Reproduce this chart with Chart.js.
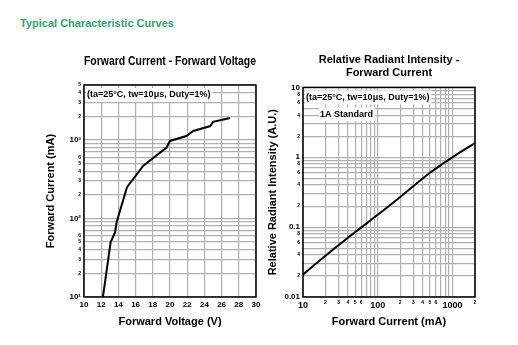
<!DOCTYPE html>
<html>
<head>
<meta charset="utf-8">
<script src="https://cdn.jsdelivr.net/npm/chart.js@4.4.0/dist/chart.umd.min.js"></script>
<style>
body { margin:0; background:#fff; width:518px; height:345px; position:relative; overflow:hidden; font-family:"Liberation Sans", Arial, sans-serif; }
#titre { position:absolute; left:20px; top:17px; font-weight:bold; font-size:11px; color:#35a06e; }
#c1 { position:absolute; left:0; top:40px; }
#c2 { position:absolute; left:262px; top:40px; }
</style>
</head>
<body>
<div id="titre">Typical Characteristic Curves</div>
<canvas id="c1" width="265" height="305"></canvas>
<canvas id="c2" width="256" height="305"></canvas>
<script>
// courbe 1 : courant direct / tension directe
const voltage = [12.2, 13.1, 13.6, 13.8, 15.0, 16.9, 19.6, 20.0, 21.9, 22.7, 24.7, 25.0, 27.0];
const currentMa = [10, 50, 66, 90, 250, 470, 800, 970, 1120, 1300, 1500, 1700, 1900];
const vTicks = [10, 12, 14, 16, 18, 20, 22, 24, 26, 28, 30];
const iTicks = [10,20,30,40,50,60,70,80,90,100,200,300,400,500,600,700,800,900,1000,2000,3000,4000,5000];
const iMajor = {10: "10\u00b9", 100: "10\u00b2", 1000: "10\u00b3"};
const iMinorDigits = [2, 3, 4, 5, 6];

// courbe 2 : intensite relative / courant direct
const currentRel = [10, 20, 50, 100, 200, 500, 1000, 2000];
const intensity = [0.021, 0.039, 0.085, 0.15, 0.27, 0.6, 1.0, 1.6];
const cTicks = [10,20,30,40,50,60,70,80,90,100,200,300,400,500,600,700,800,900,1000,2000];
const cMajor = {10: "10", 100: "100", 1000: "1000"};
const cMinorDigits = [2, 3, 4, 5, 6];
const rTicks = [0.01,0.02,0.03,0.04,0.05,0.06,0.07,0.08,0.09,0.1,0.2,0.3,0.4,0.5,0.6,0.7,0.8,0.9,1,2,3,4,5,6,7,8,9,10];
const rMajor = {0.01: "0.01", 0.1: "0.1", 1: "1", 10: "10"};
const rMinorDigits = [2, 4, 6, 8];

const note = "(ta=25\u00b0C, tw=10\u03bcs, Duty=1%)";
const FONT = "'Liberation Sans', Arial, sans-serif";
const GRID = "#b0b0b0";

function digit(v) {
	return Math.round(v / Math.pow(10, Math.floor(Math.log10(v) + 1e-9)));
}
function isMajor(v, major) {
	for (k in major) { if (Math.abs(k - v) < 1e-9) return major[k]; }
	return null;
}
function logLabel(v, major, minor) {
	m = isMajor(v, major);
	if (m) return m;
	d = digit(v);
	return minor.indexOf(d) >= 0 ? String(d) : "";
}
function logFont(v, major, size) {
	if (isMajor(v, major)) return {family: FONT, size: size, weight: "bold"};
	return {family: FONT, size: 5, weight: "bold"};
}
function fixTicks(list) {
	return function (scale) { scale.ticks = list.map(v => ({value: v})); };
}

// cadre noir + texte dans le graphe
const cadre = {
	id: "cadre",
	afterDraw(chart, args, opts) {
		const ctx = chart.ctx;
		const a = chart.chartArea;
		ctx.save();
		ctx.font = "bold 9px " + FONT;
		for (n of opts.notes) {
			w = ctx.measureText(n.text).width;
			ctx.fillStyle = "#fff";
			ctx.fillRect(a.left + n.dx - 1, a.top + n.dy - 7, w + 3, 14);
			ctx.fillStyle = "#000";
			ctx.textBaseline = "middle";
			ctx.fillText(n.text, a.left + n.dx, a.top + n.dy);
		}
		ctx.strokeStyle = "#000";
		ctx.lineWidth = 1.5;
		ctx.strokeRect(a.left, a.top, a.right - a.left, a.bottom - a.top);
		ctx.restore();
	}
};

new Chart(document.getElementById("c1"), {
	type: "line",
	plugins: [cadre],
	data: {
		datasets: [{
			data: voltage.map((v, i) => ({x: v, y: currentMa[i]})),
			borderColor: "#000",
			borderWidth: 2,
			pointRadius: 0,
			tension: 0
		}]
	},
	options: {
		responsive: false,
		animation: false,
		layout: {padding: {left: 40, right: 9, bottom: 12, top: 0}},
		plugins: {
			legend: {display: false},
			tooltip: {enabled: false},
			title: {
				display: true,
				fullSize: false,
				text: "Forward Current - Forward Voltage",
				color: "#000",
				font: {family: FONT, size: 12, weight: "bold"},
				padding: {top: 14, bottom: 16.6}
			},
			cadre: {notes: [{text: note, dx: 3, dy: 10}]}
		},
		scales: {
			x: {
				type: "linear", min: 10, max: 30,
				afterBuildTicks: fixTicks(vTicks),
				afterFit: s => { s.height = 36; },
				grid: {color: GRID, lineWidth: 1.2, drawTicks: false},
				border: {display: false},
				ticks: {color: "#000", padding: 3, autoSkip: false, maxRotation: 0,
					font: {family: FONT, size: 8, weight: "bold"}},
				title: {display: true, text: "Forward Voltage (V)", color: "#000",
					font: {family: FONT, size: 11, weight: "bold"}}
			},
			y: {
				type: "logarithmic", min: 10, max: 5000,
				afterBuildTicks: fixTicks(iTicks),
				afterFit: s => { s.width = 44; },
				grid: {color: GRID, lineWidth: 1.2, drawTicks: false},
				border: {display: false},
				ticks: {color: "#000", padding: 3, autoSkip: false,
					callback: v => logLabel(v, iMajor, iMinorDigits),
					font: c => logFont(c.tick.value, iMajor, 8)},
				title: {display: true, text: "Forward Current (mA)", color: "#000",
					font: {family: FONT, size: 11, weight: "bold"}}
			}
		}
	}
});

new Chart(document.getElementById("c2"), {
	type: "line",
	plugins: [cadre],
	data: {
		datasets: [{
			data: currentRel.map((v, i) => ({x: v, y: intensity[i]})),
			borderColor: "#000",
			borderWidth: 2,
			pointRadius: 0,
			cubicInterpolationMode: "monotone"
		}]
	},
	options: {
		responsive: false,
		animation: false,
		layout: {padding: {left: 0, right: 43, bottom: 12, top: 0}},
		plugins: {
			legend: {display: false},
			tooltip: {enabled: false},
			title: {
				display: true,
				fullSize: false,
				text: ["Relative Radiant Intensity -", "Forward Current"],
				color: "#000",
				font: {family: FONT, size: 11, weight: "bold"},
				padding: {top: 13, bottom: 8}
			},
			cadre: {notes: [{text: note, dx: 3, dy: 10}, {text: "1A Standard", dx: 17, dy: 27}]}
		},
		scales: {
			x: {
				type: "logarithmic", min: 10, max: 2000,
				afterBuildTicks: fixTicks(cTicks),
				afterFit: s => { s.height = 36; },
				grid: {color: GRID, lineWidth: 1.2, drawTicks: false},
				border: {display: false},
				ticks: {color: "#000", padding: 3, autoSkip: false, maxRotation: 0,
					callback: v => logLabel(v, cMajor, cMinorDigits),
					font: c => logFont(c.tick.value, cMajor, 9)},
				title: {display: true, text: "Forward Current (mA)", color: "#000",
					font: {family: FONT, size: 11, weight: "bold"}}
			},
			y: {
				type: "logarithmic", min: 0.01, max: 10,
				afterBuildTicks: fixTicks(rTicks),
				afterFit: s => { s.width = 41; },
				grid: {color: GRID, lineWidth: 1.2, drawTicks: false},
				border: {display: false},
				ticks: {color: "#000", padding: 3, autoSkip: false,
					callback: v => logLabel(v, rMajor, rMinorDigits),
					font: c => logFont(c.tick.value, rMajor, 8)},
				title: {display: true, text: "Relative Radiant Intensity (A.U.)", color: "#000",
					font: {family: FONT, size: 11, weight: "bold"}}
			}
		}
	}
});
</script>
</body>
</html>
